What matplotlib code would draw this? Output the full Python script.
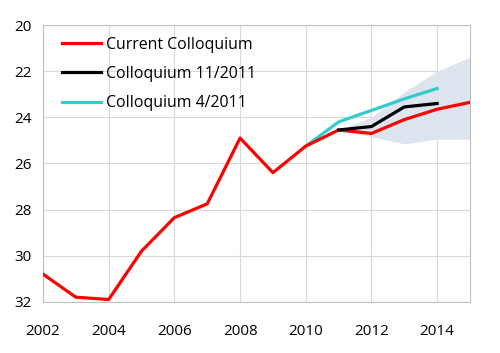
import matplotlib.pyplot as plt
import numpy as np

plt.rcParams['font.family'] = ['Open Sans', 'DejaVu Sans']

# data
years = np.arange(2002, 2016)
current = [30.8, 31.8, 31.9, 29.8, 28.35, 27.75, 24.9, 26.4, 25.25, 24.55, 24.7, 24.1, 23.65, 23.35]

years_nov = [2011, 2012, 2013, 2014]
nov_2011 = [24.55, 24.4, 23.55, 23.4]

years_apr = [2010, 2011, 2012, 2013, 2014]
apr_2011 = [25.25, 24.2, 23.7, 23.2, 22.75]

band_years = [2011, 2012, 2013, 2014, 2015]
band_low = [24.55, 24.85, 25.15, 24.95, 24.95]
band_high = [24.55, 24.0, 22.9, 22.0, 21.4]

fig = plt.figure(figsize=(5, 3.53), dpi=100)
ax = fig.add_axes([0.086, 0.145, 0.854, 0.784])

ax.fill_between(band_years, band_low, band_high, color='#dce4ee', lw=0, zorder=1)
ax.plot(years, current, color='#ff0000', lw=2.3, label='Current Colloquium', zorder=3)
ax.plot(years_nov, nov_2011, color='black', lw=2.3, label='Colloquium 11/2011', zorder=3)
ax.plot(years_apr, apr_2011, color='#33cccc', lw=2.3, label='Colloquium 4/2011', zorder=2)

ax.set_xlim(2002, 2015)
ax.set_ylim(32, 20)
ax.set_xticks(np.arange(2002, 2015, 2))
ax.set_yticks(np.arange(20, 33, 2))
ax.grid(True, color='#d9d9d9', lw=0.8)
ax.set_axisbelow(True)
for s in ax.spines.values():
    s.set_color('#bfbfbf')
ax.tick_params(length=0, labelsize=11, colors='black')
ax.tick_params(axis='x', pad=16)
ax.tick_params(axis='y', pad=8)

ax.legend(loc='upper left', frameon=False, fontsize=11.4, handlelength=2.5,
          labelspacing=0.85, handletextpad=0.3, bbox_to_anchor=(0.01, 1.01))

fig.savefig('out.png', dpi=100)
